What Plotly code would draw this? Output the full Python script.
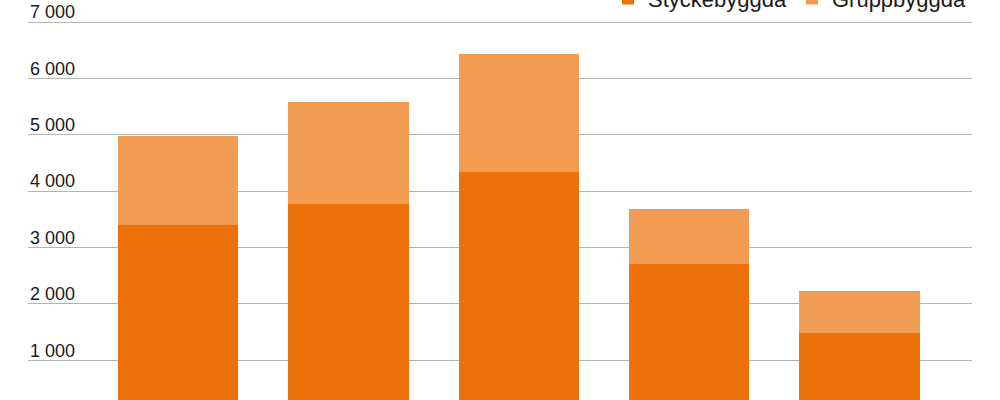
import plotly.graph_objects as go

# --- data ---
categories = ["1", "2", "3", "4", "5"]
styckebyggda = [3400, 3780, 4340, 2700, 1490]
gruppbyggda = [1570, 1810, 2100, 990, 735]

dark_orange = "#EE7009"
light_orange = "#F29B53"
font_family = "Liberation Sans, Arial, Helvetica, sans-serif"

fig = go.Figure()
fig.add_trace(go.Bar(x=categories, y=styckebyggda, name="Styckebyggda",
                     marker=dict(color=dark_orange, line=dict(width=0)),
                     width=0.7076))
fig.add_trace(go.Bar(x=categories, y=gruppbyggda, name="Gruppbyggda",
                     marker=dict(color=light_orange, line=dict(width=0)),
                     width=0.7076))

fig.update_layout(
    width=1000, height=400,
    barmode="stack",
    separators=", ",
    plot_bgcolor="white",
    paper_bgcolor="white",
    font=dict(family=font_family, color="#1a1a1a", size=18),
    margin=dict(l=28, r=28, t=0, b=0, autoexpand=False),
    showlegend=True,
    legend=dict(orientation="h", x=1.0, xanchor="right", y=1.056, yanchor="top",
                traceorder="normal", font=dict(size=22),
                bgcolor="rgba(0,0,0,0)", itemwidth=30),
    xaxis=dict(type="category", range=[-0.882, 4.661], showgrid=False,
               showticklabels=False, showline=False, zeroline=False),
    yaxis=dict(range=[296, 7391], dtick=1000, tick0=0, tickformat=",d",
               showgrid=True, gridcolor="#B3B3B3", gridwidth=1,
               zeroline=False, showline=False, ticks="",
               ticklabelstandoff=-48, ticklabelshift=-10,
               tickfont=dict(size=18, color="#1a1a1a")),
)

# page body margin off so the figure sits at the window's top-left corner
fig.write_html("out.html", config={"displayModeBar": False},
               post_script="document.body.style.margin='0px';")
